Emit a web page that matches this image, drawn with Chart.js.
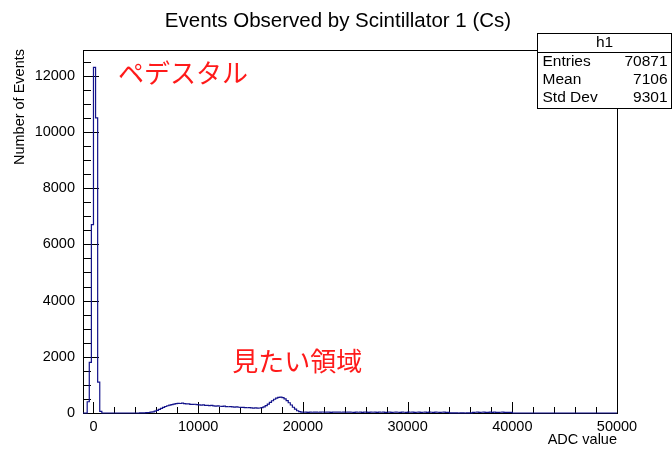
<!DOCTYPE html>
<html>
<head>
<meta charset="utf-8">
<script src="https://cdn.jsdelivr.net/npm/chart.js@4.4.1/dist/chart.umd.min.js"></script>
<style>
  html, body { margin: 0; padding: 0; background: #fff; }
  canvas { display: block; }
</style>
</head>
<body>
<canvas id="c" width="672" height="451"></canvas>
<script>
// ---- histogram h1: 255 bins of 200 ADC counts from -1000 to 50000 ----
const binStart = -1000;
const binWidth = 200;
const counts = [
  // -1000 .. 800 (pedestal)
  0, 0, 400, 1800, 6700, 12300, 10500, 1100, 60, 0,
  // 1000 .. 2800
  0, 0, 0, 0, 0, 0, 0, 0, 0, 0,
  // 3000 .. 4800
  0, 0, 0, 0, 0, 0, 0, 2, 4, 6,
  // 5000 .. 6800
  12, 18, 28, 42, 65, 95, 130, 165, 200, 232,
  // 7000 .. 8800
  258, 282, 300, 318, 332, 345, 338, 350, 332, 322,
  // 9000 .. 10800
  326, 310, 306, 312, 296, 288, 280, 286, 274, 268,
  // 11000 .. 12800
  262, 268, 254, 248, 254, 240, 235, 243, 228, 222,
  // 13000 .. 14800
  230, 216, 212, 218, 204, 198, 202, 192, 186, 190,
  // 15000 .. 16800
  180, 175, 179, 172, 178, 192, 220, 262, 315, 375,
  // 17000 .. 18800 (photopeak)
  435, 490, 530, 555, 562, 545, 505, 440, 365, 285,
  // 19000 .. 20800
  205, 135, 80, 48, 32, 27, 30, 25, 31, 27,
  // 21000 .. 22800
  29, 33, 26, 30, 35, 27, 31, 29, 25, 32,
  // 23000 .. 24800
  28, 30, 33, 26, 29, 27, 34, 29, 27, 25,
  // 25000 .. 26800
  30, 27, 32, 25, 28, 30, 24, 31, 27, 29,
  // 27000 .. 28800
  24, 29, 27, 32, 25, 27, 30, 24, 27, 31,
  // 29000 .. 30800
  27, 24, 29, 27, 23, 30, 26, 31, 24, 27,
  // 31000 .. 32800
  29, 23, 27, 32, 24, 29, 26, 23, 28, 26,
  // 33000 .. 34800
  23, 26, 29, 22, 25, 6, 2, 3, 1, 0,
  // 35000 .. 36800
  1, 2, 0, 1, 3, 2, 22, 26, 28, 23,
  // 37000 .. 38800
  26, 29, 22, 25, 30, 23, 28, 25, 22, 26,
  // 39000 .. 40800
  28, 22, 25, 23, 24, 0, 0, 0, 0, 0,
  // 41000 .. 42800
  0, 0, 0, 0, 0, 0, 0, 0, 0, 0,
  // 43000 .. 44800
  0, 0, 0, 0, 0, 0, 0, 0, 0, 0,
  // 45000 .. 46800
  0, 0, 0, 0, 0, 0, 0, 0, 0, 0,
  // 47000 .. 48800
  0, 0, 0, 0, 0, 0, 0, 0, 0, 0,
  // 49000 .. 49800
  0, 0, 0, 0, 0
];

const xTickValues = [0, 10000, 20000, 30000, 40000, 50000];
const yTickValues = [0, 2000, 4000, 6000, 8000, 10000, 12000];

const titleText = 'Events Observed by Scintillator 1 (Cs)';
const xTitleText = 'ADC value';
const yTitleText = 'Number of Events';

const statsName = 'h1';
const statLabels = ['Entries', 'Mean', 'Std Dev'];
const statValues = ['70871', '7106', '9301'];

const noteTexts = ['ペデスタル', '見たい領域'];

// ---- step outline of the histogram ----
const binEnd = binStart + counts.length * binWidth;
const stepPoints = [{ x: binStart, y: 0 }];
counts.forEach((c, i) => {
  const lo = binStart + i * binWidth;
  stepPoints.push({ x: lo, y: c }, { x: lo + binWidth, y: c });
});
stepPoints.push({ x: binEnd, y: 0 });

const yMax = Math.max(...counts) * 1.05;

const FONT = '"Liberation Sans", Arial, Helvetica, sans-serif';
const CJK = '"Noto Sans CJK JP", "Noto Sans CJK SC", sans-serif';

// Frame, inward ticks, titles, stats box and notes drawn in ROOT style
const rootStyle = {
  id: 'rootStyle',
  beforeDatasetsDraw(chart) {
    const { ctx, chartArea: a, scales: { x, y } } = chart;
    ctx.save();
    ctx.strokeStyle = '#000';
    ctx.lineWidth = 1;
    ctx.beginPath();
    // y axis: major every 2000, minor every 500
    for (let v = 0; v <= y.max; v += 500) {
      const py = Math.round(y.getPixelForValue(v)) + 0.5;
      const len = v % 2000 === 0 ? 16 : 8;
      ctx.moveTo(a.left, py);
      ctx.lineTo(a.left + len, py);
    }
    // x axis: major every 10000, minor every 2000
    for (let v = 0; v <= x.max; v += 2000) {
      const px = Math.round(x.getPixelForValue(v)) + 0.5;
      const len = v % 10000 === 0 ? 11 : 6;
      ctx.moveTo(px, a.bottom);
      ctx.lineTo(px, a.bottom - len);
    }
    ctx.stroke();
    // frame
    ctx.strokeRect(Math.round(a.left) + 0.5, Math.round(a.top) + 0.5,
      Math.round(a.right - a.left), Math.round(a.bottom - a.top));
    ctx.restore();
  },
  afterDraw(chart) {
    const { ctx, chartArea: a, scales: { x, y } } = chart;
    ctx.save();
    ctx.fillStyle = '#000';

    // title
    ctx.font = '20.5px ' + FONT;
    ctx.textAlign = 'center';
    ctx.textBaseline = 'middle';
    ctx.fillText(titleText, 338, 21);

    // x axis title
    ctx.font = '14.5px ' + FONT;
    ctx.textAlign = 'right';
    ctx.fillText(xTitleText, a.right, 440);

    // y axis title
    ctx.save();
    ctx.translate(20, a.top - 1);
    ctx.rotate(-Math.PI / 2);
    ctx.textAlign = 'right';
    ctx.textBaseline = 'middle';
    ctx.fillText(yTitleText, 0, 0);
    ctx.restore();

    // stats box
    const bx = 537.5, by = 33.5, bw = 134, bh = 75;
    ctx.fillStyle = '#fff';
    ctx.fillRect(bx, by, bw, bh);
    ctx.strokeStyle = '#000';
    ctx.lineWidth = 1;
    ctx.strokeRect(bx, by, bw, bh);
    ctx.beginPath();
    ctx.moveTo(bx, 52.5);
    ctx.lineTo(bx + bw, 52.5);
    ctx.stroke();
    ctx.fillStyle = '#000';
    ctx.font = '15.5px ' + FONT;
    ctx.textAlign = 'center';
    ctx.textBaseline = 'middle';
    ctx.fillText(statsName, bx + bw / 2, 43);
    statLabels.forEach((lab, i) => {
      const ty = 62 + i * 18;
      ctx.textAlign = 'left';
      ctx.fillText(lab, bx + 5, ty);
      ctx.textAlign = 'right';
      ctx.fillText(statValues[i], bx + bw - 4, ty);
    });

    // red notes
    ctx.fillStyle = '#ff1a1a';
    ctx.font = '26px ' + CJK;
    ctx.textAlign = 'left';
    ctx.textBaseline = 'middle';
    ctx.fillText(noteTexts[0], x.getPixelForValue(2350), y.getPixelForValue(12100));
    ctx.fillText(noteTexts[1], x.getPixelForValue(13250), y.getPixelForValue(1850));
    ctx.restore();
  }
};

new Chart(document.getElementById('c'), {
  type: 'line',
  data: {
    datasets: [{
      label: statsName,
      data: stepPoints,
      borderColor: '#12128a',
      borderWidth: 1.2,
      pointRadius: 0,
      fill: false,
      tension: 0,
      clip: false
    }]
  },
  options: {
    responsive: false,
    animation: false,
    devicePixelRatio: 1,
    layout: { padding: { top: 50, right: 55, left: 0, bottom: 0 } },
    plugins: { legend: { display: false }, tooltip: { enabled: false }, title: { display: false } },
    scales: {
      x: {
        type: 'linear',
        min: binStart,
        max: binEnd,
        grid: { display: false, drawTicks: false },
        border: { display: false },
        afterBuildTicks: (s) => { s.ticks = xTickValues.map(v => ({ value: v })); },
        afterFit: (s) => { s.height = 38; },
        ticks: {
          color: '#000',
          font: { family: FONT, size: 14.5 },
          padding: 5,
          maxRotation: 0,
          autoSkip: false,
          callback: (v) => String(v)
        }
      },
      y: {
        type: 'linear',
        min: 0,
        max: yMax,
        grid: { display: false, drawTicks: false },
        border: { display: false },
        afterBuildTicks: (s) => { s.ticks = yTickValues.map(v => ({ value: v })); },
        afterFit: (s) => { s.width = 83; },
        ticks: {
          color: '#000',
          font: { family: FONT, size: 14.5 },
          padding: 8,
          autoSkip: false,
          callback: (v) => String(v)
        }
      }
    }
  },
  plugins: [rootStyle]
});
</script>
</body>
</html>
